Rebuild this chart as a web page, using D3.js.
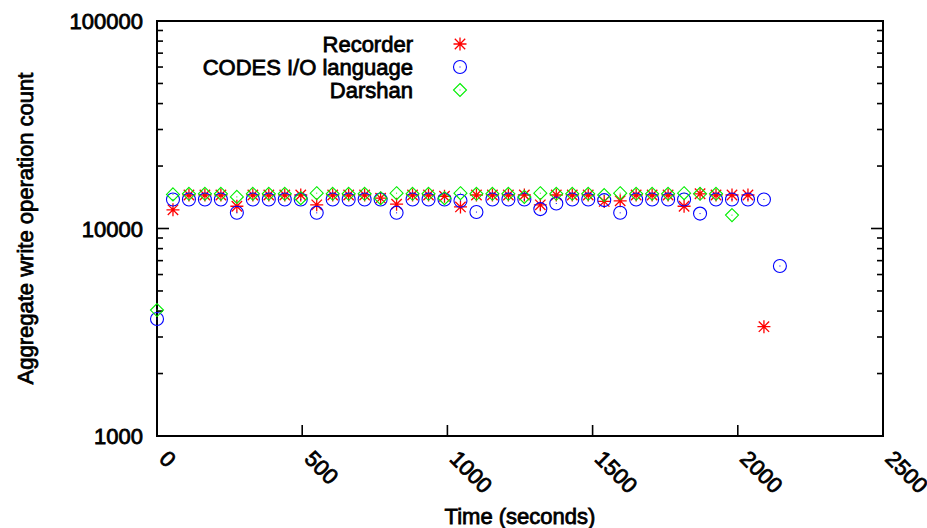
<!DOCTYPE html>
<html lang="en">
<head>
<meta charset="utf-8">
<title>Aggregate write operation count</title>
<style>
  body { margin: 0; background: #fff; }
  svg text { font-family: "Liberation Sans", Arial, Helvetica, sans-serif; font-size: 22px; fill: #000; stroke: #000; stroke-width: 0.8px; }
</style>
</head>
<body>
<svg id="chart" width="927" height="528"></svg>
<script src="https://d3js.org/d3.v7.min.js"></script>
<script>
// sample times (seconds)
var times = [0, 55, 110, 165, 220, 275, 330, 385, 440, 495, 550, 605, 660, 715, 770, 825,
             880, 935, 990, 1045, 1100, 1155, 1210, 1265, 1320, 1375, 1430, 1485, 1540, 1595,
             1650, 1705, 1760, 1815, 1870, 1925, 1980, 2035, 2090, 2145];

// Recorder: starts at the 2nd sample (55 s)
var recorder = [12300, 14500, 14500, 14500, 12800, 14500, 14500, 14500, 14500, 13000,
                14500, 14500, 14500, 14000, 13100, 14500, 14500, 14300, 12700, 14500,
                14500, 14500, 14500, 13000, 14500, 14500, 14500, 13500, 13600, 14500,
                14500, 14500, 12800, 14700, 14500, 14500, 14500, 3365];

// CODES I/O language: all samples
var codes = [3664, 13800, 13800, 13800, 13800, 11900, 13800, 13800, 13800, 13800,
             11900, 13800, 13800, 13800, 13800, 11900, 13800, 13800, 13800, 13600,
             12000, 13800, 13800, 13800, 12400, 13200, 13800, 13800, 13700, 11900,
             13800, 13800, 13800, 13800, 11800, 13800, 13800, 13800, 13800, 6595];

// Darshan: from 0 s to 1980 s
var darshan = [4047, 14600, 14700, 14700, 14700, 14200, 14700, 14700, 14700, 14000,
               14800, 14700, 14700, 14700, 14000, 14800, 14700, 14700, 14000, 14800,
               14700, 14700, 14700, 14200, 14800, 14700, 14700, 14700, 14500, 14800,
               14700, 14700, 14700, 14800, 14700, 14700, 11600];

var xTicks = [0, 500, 1000, 1500, 2000, 2500];
var yTicks = [1000, 10000, 100000];

var svg = d3.select('#chart');
var margin = {left: 157, right: 44, top: 21, bottom: 92};
var W = +svg.attr('width'), H = +svg.attr('height');

var x = d3.scaleLinear().domain([0, 2500]).range([margin.left, W - margin.right]);
var y = d3.scaleLog().domain([1000, 100000]).range([H - margin.bottom, margin.top]);

var x0 = x.range()[0], x1 = x.range()[1], y0 = y.range()[0], y1 = y.range()[1];

// minor y ticks (2..9 per decade)
var minor = [];
[1000, 10000].forEach(function(d) {
    for (var m = 2; m <= 9; m++) minor.push(d * m);
});

var axes = svg.append('g').attr('stroke', '#000');
// y ticks, both sides, inward
axes.selectAll('line.ymaj').data(yTicks).enter().append('line')
    .attr('x1', x0).attr('x2', x0 + 12)
    .attr('y1', function(d) { return y(d); }).attr('y2', function(d) { return y(d); })
    .attr('stroke-width', 1.6);
axes.selectAll('line.ymajr').data(yTicks).enter().append('line')
    .attr('x1', x1).attr('x2', x1 - 12)
    .attr('y1', function(d) { return y(d); }).attr('y2', function(d) { return y(d); })
    .attr('stroke-width', 1.6);
axes.selectAll('line.ymin').data(minor).enter().append('line')
    .attr('x1', x0).attr('x2', x0 + 6)
    .attr('y1', function(d) { return y(d); }).attr('y2', function(d) { return y(d); })
    .attr('stroke-width', 1.6);
axes.selectAll('line.yminr').data(minor).enter().append('line')
    .attr('x1', x1).attr('x2', x1 - 6)
    .attr('y1', function(d) { return y(d); }).attr('y2', function(d) { return y(d); })
    .attr('stroke-width', 1.6);
// x ticks, bottom only
axes.selectAll('line.xt').data(xTicks).enter().append('line')
    .attr('x1', function(d) { return x(d); }).attr('x2', function(d) { return x(d); })
    .attr('y1', y0).attr('y2', y0 - 11)
    .attr('stroke-width', 1.6);

// frame
svg.append('rect')
    .attr('x', x0).attr('y', y1).attr('width', x1 - x0).attr('height', y0 - y1)
    .attr('fill', 'none').attr('stroke', '#000').attr('stroke-width', 2);

// tick labels
svg.selectAll('text.ylab').data(yTicks).enter().append('text')
    .attr('x', x0 - 14).attr('y', function(d) { return y(d) + 8; })
    .attr('text-anchor', 'end')
    .text(function(d) { return d; });

svg.selectAll('text.xlab').data(xTicks).enter().append('text')
    .attr('transform', function(d) { return 'translate(' + (x(d) + 1) + ',' + (y0 + 24) + ') rotate(45)'; })
    .attr('text-anchor', 'start')
    .text(function(d) { return d; });

// axis titles
svg.append('text')
    .attr('transform', 'translate(33,' + ((y0 + y1) / 2) + ') rotate(-90)')
    .attr('text-anchor', 'middle')
    .text('Aggregate write operation count');
svg.append('text')
    .attr('x', (x0 + x1) / 2).attr('y', 524)
    .attr('text-anchor', 'middle')
    .text('Time (seconds)');

// marker shapes
function starPath(s) {
    var d = s * 0.8;
    return 'M' + (-s) + ',0L' + s + ',0M0,' + (-s) + 'L0,' + s +
           'M' + (-d) + ',' + (-d) + 'L' + d + ',' + d +
           'M' + (-d) + ',' + d + 'L' + d + ',' + (-d);
}
function diamondPath(s) {
    return 'M0,' + (-s) + 'L' + s + ',0L0,' + s + 'L' + (-s) + ',0Z';
}

function drawMarker(g, type, color) {
    if (type === 'star') {
        g.append('path').attr('d', starPath(6.5)).attr('stroke', color).attr('fill', 'none').attr('stroke-width', 1.3);
    } else if (type === 'circle') {
        g.append('circle').attr('r', 6.5).attr('stroke', color).attr('fill', 'none').attr('stroke-width', 1.1);
        g.append('rect').attr('x', -0.5).attr('y', -0.5).attr('width', 1).attr('height', 1).attr('fill', color);
    } else {
        g.append('path').attr('d', diamondPath(6.5)).attr('stroke', color).attr('fill', 'none').attr('stroke-width', 1.1);
        g.append('rect').attr('x', -0.5).attr('y', -0.5).attr('width', 1).attr('height', 1).attr('fill', color);
    }
}

var series = [
    {name: 'Recorder', type: 'star', color: '#ff0000', t: times.slice(1, 1 + recorder.length), v: recorder},
    {name: 'CODES I/O language', type: 'circle', color: '#0000ff', t: times.slice(0, codes.length), v: codes},
    {name: 'Darshan', type: 'diamond', color: '#00ee00', t: times.slice(0, darshan.length), v: darshan}
];

series.forEach(function(s, si) {
    var pts = s.v.map(function(v, i) { return {t: s.t[i], v: v}; });
    svg.append('g').selectAll('g').data(pts).enter().append('g')
        .attr('transform', function(d) { return 'translate(' + x(d.t) + ',' + y(d.v) + ')'; })
        .each(function() { drawMarker(d3.select(this), s.type, s.color); });

    // legend
    var ly = 44 + si * 23;
    svg.append('text')
        .attr('x', 413).attr('y', ly + 8)
        .attr('text-anchor', 'end')
        .text(s.name);
    var lg = svg.append('g').attr('transform', 'translate(460,' + ly + ')');
    drawMarker(lg, s.type, s.color);
});
</script>
</body>
</html>
